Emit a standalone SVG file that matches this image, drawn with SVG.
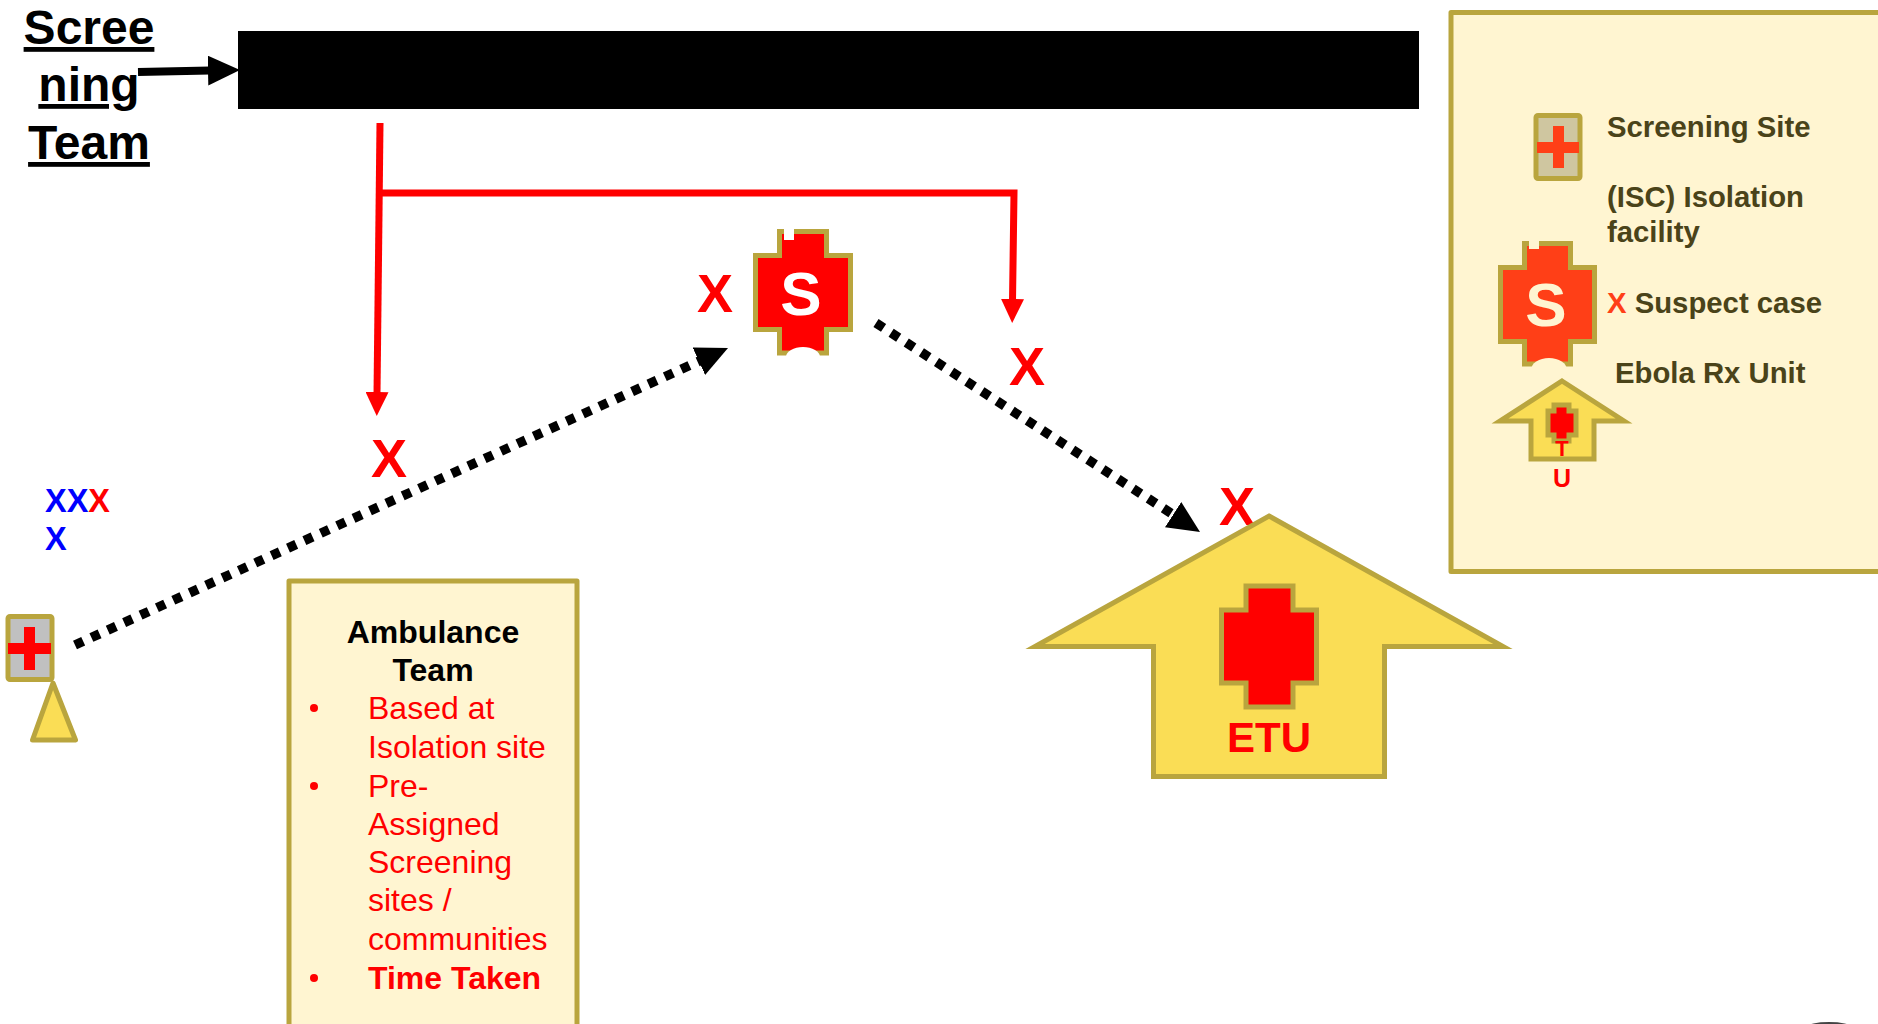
<svg xmlns="http://www.w3.org/2000/svg" width="1878" height="1024" viewBox="0 0 1878 1024">
<style>
text{font-family:"Liberation Sans",Arial,sans-serif}
.b{font-weight:700}
.team{font-size:48px;font-weight:700;text-anchor:middle;text-decoration:underline;fill:#000}
.x{font-size:54px;font-weight:700;text-anchor:middle;fill:#f00}
.panel{fill:#fff5d1;stroke:#b9a53e;stroke-width:5;stroke-linejoin:round}
.gold{stroke:#b9a53e;stroke-width:5}
.yellow{fill:#fadd55}
.leg{font-size:29.300px;font-weight:700;fill:#4a4319}
.amb{font-size:32px;fill:#f00}
.dot{fill:none;stroke:#000;stroke-width:9.500;stroke-dasharray:9 9}
.red{fill:none;stroke:#f00;stroke-width:7}
</style>
<defs>
<marker id="ah" markerUnits="userSpaceOnUse" markerWidth="32" markerHeight="30" refX="2" refY="15" orient="auto"><path d="M0 0L32 15L0 30Z" fill="#000"/></marker>
<marker id="rh" markerUnits="userSpaceOnUse" markerWidth="24" markerHeight="23" refX="2" refY="11.500" orient="auto"><path d="M0 0L24 11.500L0 23Z" fill="#f00"/></marker>
</defs>
<g id="banner"><rect x="238" y="31" width="1181" height="78" fill="#000"/></g>
<g id="screening-team">
<text class="team" x="89" y="44">Scree</text>
<text class="team" x="89" y="101">ning</text>
<text class="team" x="89" y="159">Team</text>
</g>
<g id="connectors">
<path d="M138 72L210 70.500" fill="none" stroke="#000" stroke-width="8" marker-end="url(#ah)"/>
<path class="red" d="M380 123L377 394" marker-end="url(#rh)"/>
<path class="red" d="M380 193H1014L1012.500 301" marker-end="url(#rh)"/>
<path class="dot" d="M75 645L700.700 360.400" marker-end="url(#ah)"/>
<path class="dot" d="M876 323L1174.800 515.700" marker-end="url(#ah)"/>
</g>
<g id="case-1"><text class="x" x="389" y="477">X</text></g>
<g id="case-2"><text class="x" x="715" y="312">X</text></g>
<g id="case-3"><text class="x" x="1027" y="385">X</text></g>
<g id="case-4"><text class="x" x="1237" y="525">X</text></g>
<g id="community">
<text class="b" font-size="32.500" y="512"><tspan x="45" fill="#00f">XX</tspan><tspan fill="#f00">X</tspan></text>
<text class="b" font-size="32.500" x="45" y="550" fill="#00f">X</text>
</g>
<g id="screening-site">
<rect class="gold" x="8" y="616.500" width="44" height="63" rx="2" fill="#c0c0c0"/>
<path d="M24 627H35V643H51V654H35V670H24V654H8V643H24Z" fill="#f00"/>
<path class="gold yellow" d="M53 683L75.500 740H32.500Z" stroke-linejoin="round"/>
</g>
<g id="isolation">
<path class="gold" fill="#f00" d="M779.500 231.500H826.500V255.500H850.500V329.500H826.500V353H779.500V329.500H755.500V255.500H779.500Z"/>
<rect x="784" y="229" width="10" height="11" fill="#fff"/>
<ellipse cx="803" cy="357" rx="17" ry="10" fill="#fff"/>
<rect x="780" y="356" width="50" height="12" fill="#fff"/>
<text class="b" x="801" y="315" font-size="62" text-anchor="middle" fill="#fff">S</text>
</g>
<g id="etu">
<path class="gold yellow" d="M1269 516L1503 646.500H1384.500V776.500H1153.500V646.500H1035Z"/>
<path class="gold" fill="#f00" d="M1246 586H1293V610H1316.500V683H1293V707H1246V683H1221.500V610H1246Z"/>
<text class="b" x="1269" y="752" font-size="42" text-anchor="middle" fill="#f00">ETU</text>
</g>
<g id="ambulance-team">
<rect class="panel" x="289" y="581" width="288" height="461"/>
<text class="b" x="433" y="643" font-size="32" text-anchor="middle">Ambulance</text>
<text class="b" x="433" y="681" font-size="32" text-anchor="middle">Team</text>
<circle cx="314" cy="708" r="4" fill="#f00"/>
<circle cx="314" cy="786" r="4" fill="#f00"/>
<circle cx="314" cy="978" r="4" fill="#f00"/>
<text class="amb" x="368" y="719">Based at</text>
<text class="amb" x="368" y="758">Isolation site</text>
<text class="amb" x="368" y="797">Pre-</text>
<text class="amb" x="368" y="835">Assigned</text>
<text class="amb" x="368" y="873">Screening</text>
<text class="amb" x="368" y="911">sites /</text>
<text class="amb" x="368" y="950">communities</text>
<text class="amb b" x="368" y="989">Time Taken</text>
</g>
<g id="legend">
<rect class="panel" x="1451" y="12.500" width="432" height="559"/>
<rect class="gold" x="1536" y="115.500" width="44" height="63" rx="2" fill="#cfc6a0"/>
<path d="M1553 126H1564V142H1579V153H1564V168H1553V153H1537V142H1553Z" fill="#ff3f17"/>
<text class="leg" x="1607" y="137">Screening Site</text>
<text class="leg" x="1607" y="207">(ISC) Isolation</text>
<text class="leg" x="1607" y="242">facility</text>
<path class="gold" fill="#ff3f17" d="M1524.500 243.500H1570.500V267.500H1594.500V341.500H1570.500V364H1524.500V341.500H1500.500V267.500H1524.500Z"/>
<rect x="1529" y="240" width="10" height="9" fill="#fff5d1"/>
<ellipse cx="1549" cy="370" rx="18" ry="12" fill="#fff5d1"/>
<text class="b" x="1546" y="326" font-size="62" text-anchor="middle" fill="#fff5d1">S</text>
<text class="leg" x="1607" y="313"><tspan fill="#ff3f17">X</tspan> Suspect case</text>
<text class="leg" x="1615" y="383">Ebola Rx Unit</text>
<path class="gold yellow" d="M1562 381L1624 421H1594V459H1531V421H1500Z"/>
<path class="gold" fill="#f00" stroke-width="4" d="M1554 405H1569V411H1576V435H1569V441H1554V435H1548V411H1554Z"/>
<text class="b" x="1562" y="456" font-size="22" text-anchor="middle" fill="#f00">T</text>
<text class="b" x="1562" y="487" font-size="25" text-anchor="middle" fill="#f00">U</text>
</g>
<g id="corner-mark"><ellipse cx="1829" cy="1027" rx="22" ry="5" fill="#444"/></g>
</svg>
